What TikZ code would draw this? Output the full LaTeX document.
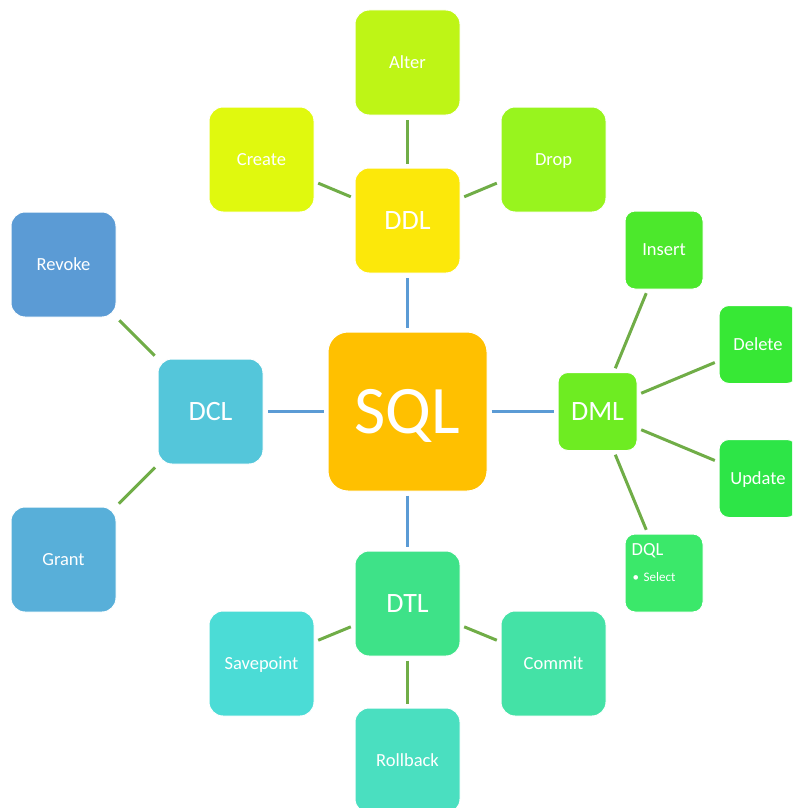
\documentclass[tikz,border=0pt]{standalone}
\usepackage{fontspec}
\setmainfont{Carlito}
\definecolor{cSQL}{HTML}{FFC000}
\definecolor{cDDL}{HTML}{FCE80A}
\definecolor{cAlter}{HTML}{BEF516}
\definecolor{cCreate}{HTML}{E0F90E}
\definecolor{cDrop}{HTML}{98F41E}
\definecolor{cDML}{HTML}{6EEC22}
\definecolor{cInsert}{HTML}{4CE82C}
\definecolor{cDelete}{HTML}{37E835}
\definecolor{cUpdate}{HTML}{2DE547}
\definecolor{cDQL}{HTML}{3BE86A}
\definecolor{cDTL}{HTML}{3EE288}
\definecolor{cCommit}{HTML}{44E2A6}
\definecolor{cRollback}{HTML}{4ADFC0}
\definecolor{cSavepoint}{HTML}{4BDCD6}
\definecolor{cDCL}{HTML}{54C6DA}
\definecolor{cGrant}{HTML}{58AFD9}
\definecolor{cRevoke}{HTML}{5B9BD5}
\definecolor{lgreen}{HTML}{70AD47}
\definecolor{lblue}{HTML}{5B9BD5}
\tikzset{
  box/.style={draw=white, line width=1pt, text=white, inner sep=0pt, align=center},
  leaf/.style={box, minimum width=105pt, minimum height=105pt, rounded corners=14pt, font=\fontsize{18.5}{21}\selectfont, text height=13pt, text depth=1.2pt},
  small/.style={box, minimum width=78pt, minimum height=78pt, rounded corners=10pt, font=\fontsize{18.5}{21}\selectfont, text height=13pt, text depth=1.2pt},
  mid/.style={box, minimum width=105pt, minimum height=105pt, rounded corners=14pt, font=\fontsize{28}{32}\selectfont, text height=18.5pt, text depth=0pt},
  gline/.style={draw=lgreen, line width=3pt, shorten <=4pt, shorten >=4pt},
  bline/.style={draw=lblue, line width=3pt, shorten <=4pt, shorten >=4pt}
}
\begin{document}
\begin{tikzpicture}[x=1pt,y=-1pt]
\useasboundingbox (0,0) rectangle (792,808);
\clip (0,0) rectangle (792,808);
% centre
\node[box, fill=cSQL, minimum width=159pt, minimum height=159pt, rounded corners=20pt, font=\fontsize{68}{72}\selectfont, text height=44pt, text depth=0pt] (sql) at (407.5,411.5) {SQL};
% middle ring
\node[mid, fill=cDDL] (ddl) at (407.5,220.5) {DDL};
\node[mid, fill=cDCL] (dcl) at (210.5,411.5) {DCL};
\node[mid, fill=cDTL] (dtl) at (407.5,603.5) {DTL};
\node[mid, fill=cDML, minimum width=79pt, minimum height=78pt, rounded corners=10pt] (dml) at (597.5,411.5) {DML};
% DDL leaves
\node[leaf, fill=cAlter] (alter) at (407.5,62.5) {Alter};
\node[leaf, fill=cCreate] (create) at (261.5,159.5) {Create};
\node[leaf, fill=cDrop] (drop) at (553.5,159.5) {Drop};
% DCL leaves
\node[leaf, fill=cRevoke] (revoke) at (63.5,264.5) {Revoke};
\node[leaf, fill=cGrant] (grant) at (63.5,559.5) {Grant};
% DTL leaves
\node[leaf, fill=cSavepoint] (savepoint) at (261.5,663.5) {Savepoint};
\node[leaf, fill=cCommit] (commit) at (553.5,663.5) {Commit};
\node[leaf, fill=cRollback] (rollback) at (407.5,760.5) {Rollback};
% DML leaves
\node[small, fill=cInsert] (insert) at (664,250) {Insert};
\node[small, fill=cDelete] (delete) at (758,344.5) {Delete};
\node[small, fill=cUpdate] (update) at (758,478.5) {Update};
\node[small, fill=cDQL] (dql) at (664,573) {};
\node[anchor=base west, inner sep=0pt, text=white, font=\fontsize{18.5}{21}\selectfont] (dqlt) at (631.5,555) {DQL};
\node[anchor=base west, inner sep=0pt, text=white, font=\fontsize{13}{15}\selectfont] (dqls) at (632.5,581) {•\hspace{4.5pt}Select};
% connectors
\draw[bline] (sql) -- (ddl);
\draw[bline] (sql) -- (dcl);
\draw[bline] (sql) -- (dtl);
\draw[bline] (sql) -- (dml);
\draw[gline] (ddl) -- (alter);
\draw[gline] (ddl) -- (create);
\draw[gline] (ddl) -- (drop);
\draw[gline] (dcl) -- (revoke);
\draw[gline] (dcl) -- (grant);
\draw[gline] (dtl) -- (savepoint);
\draw[gline] (dtl) -- (commit);
\draw[gline] (dtl) -- (rollback);
\draw[gline] (dml) -- (insert);
\draw[gline] (dml) -- (delete);
\draw[gline] (dml) -- (update);
\draw[gline] (dml) -- (dql);
\end{tikzpicture}
\end{document}
